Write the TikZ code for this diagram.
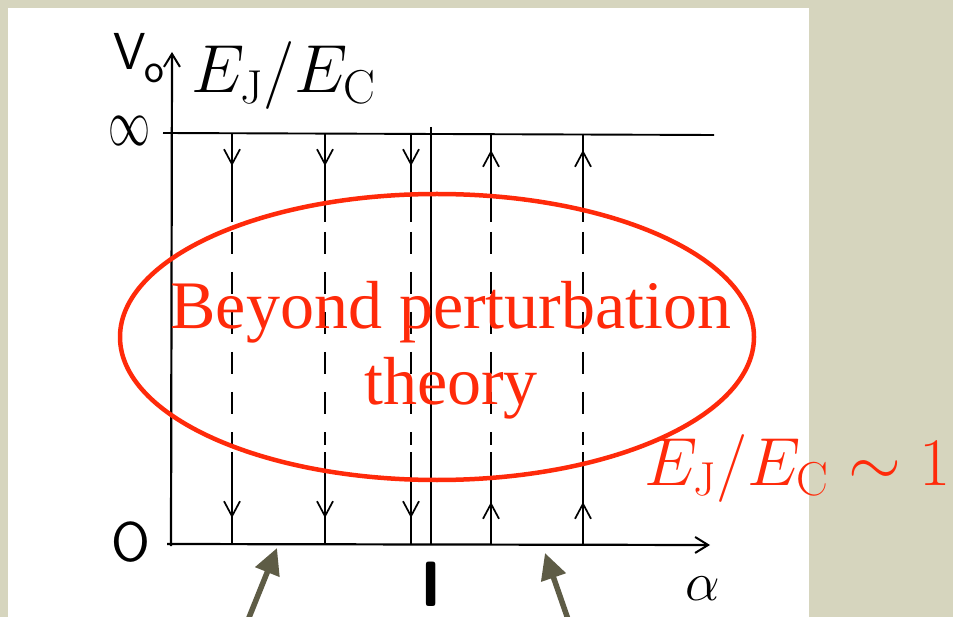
\documentclass[tikz,border=0pt]{standalone}
\usepackage{fix-cm}
\usepackage{fontspec}
\usetikzlibrary{positioning,arrows.meta}
\newfontfamily\slidefont{Liberation Serif}
\definecolor{paper}{HTML}{D6D5BE}
\definecolor{hilite}{HTML}{FF2A0A}
\definecolor{arrowgrey}{HTML}{5E5C46}

\begin{document}
\begin{tikzpicture}[
    x=1pt, y=-1pt,
    axis/.style={line width=2.2pt,-{Straight Barb[length=13pt,width=16pt,line width=2pt]}},
    flow/.style={line width=1.7pt},
    broken/.style={flow,dash pattern=on 22pt off 18pt},
    barb/.style={-{Straight Barb[length=15pt,width=16pt,line width=1.7pt]}},
    sketch/.style={font=\sffamily\fontsize{52}{52}\selectfont,inner sep=0pt},
    ratio/.style={font=\fontsize{68}{68}\selectfont,inner sep=0pt},
    hint/.style={arrowgrey,line width=5.5pt,-{Triangle[length=26pt,width=25pt]}}
  ]
    % slide background and white panel
    \fill[paper] (0,0) rectangle (953,617);
    \fill[white] (8,8) rectangle (809,617);
    \useasboundingbox (0,0) rectangle (953,617);

    % axes of the scanned plot
    \draw[axis] (167,544) -- (710,545);
    \draw[axis] (171,546) -- (172,52);
    \draw[flow,line width=1.9pt] (163,133) -- (714,135);
    \draw[flow] (431,127) -- (431,544);

    \foreach \x in {232,325,411}{
      \draw[flow,barb] (\x,134) -- (\x,166);
      \draw[flow] (\x,160) -- (\x,222);
      \draw[broken] (\x,232) -- (\x,445);
      \draw[flow,barb] (\x,452) -- (\x,518);
      \draw[flow] (\x,512) -- (\x,544);
    }
    \foreach \x in {491,583}{
      \draw[flow] (\x,134) -- (\x,160);
      \draw[flow,barb] (\x,222) -- (\x,150);
      \draw[broken] (\x,232) -- (\x,445);
      \draw[flow] (\x,452) -- (\x,510);
      \draw[flow,barb] (\x,544) -- (\x,502);
    }

    \node[sketch,anchor=base west] (vnaught) at (113,70)
      {V\kern-1pt\raisebox{-13pt}{\fontsize{42}{42}\selectfont o}};
    \node[sketch,font=\fontsize{42}{42}\selectfont] (infty) at (129,131) {\scalebox{1}[1.6]{$\infty$}};
    \node[sketch,font=\sffamily\fontsize{56}{56}\selectfont] (zero) at (131,542) {O};
    \node[sketch,font=\sffamily\bfseries\fontsize{64}{64}\selectfont] (one) at (431,584) {I};
    \node[sketch,font=\fontsize{55}{55}\selectfont] (alpha) at (703,589) {$\alpha$};

    % red overlay
    \draw[hilite,line width=4.5pt] (437,337) ellipse [x radius=317, y radius=143];
    \node[text=hilite,font=\slidefont\fontsize{68}{76}\selectfont,align=center,inner sep=0pt]
      (regime) at (451,350) {Beyond perturbation\\theory};
    \node[ratio,anchor=base west] (ratiotop) at (191,93) {$E_{\mathrm{J}}/E_{\mathrm{C}}$};
    \node[ratio,text=hilite,anchor=base west] (ratioone) at (644,485) {$E_{\mathrm{J}}/E_{\mathrm{C}}\sim 1$};

    % grey pointers to the two halves of the axis
    \coordinate (tailA) at (246,625);
    \coordinate (headA) at (277,548);
    \coordinate (tailB) at (570,625);
    \coordinate (headB) at (545,553);
    \draw[hint] (tailA) -- (headA);
    \draw[hint] (tailB) -- (headB);
\end{tikzpicture}
\end{document}
